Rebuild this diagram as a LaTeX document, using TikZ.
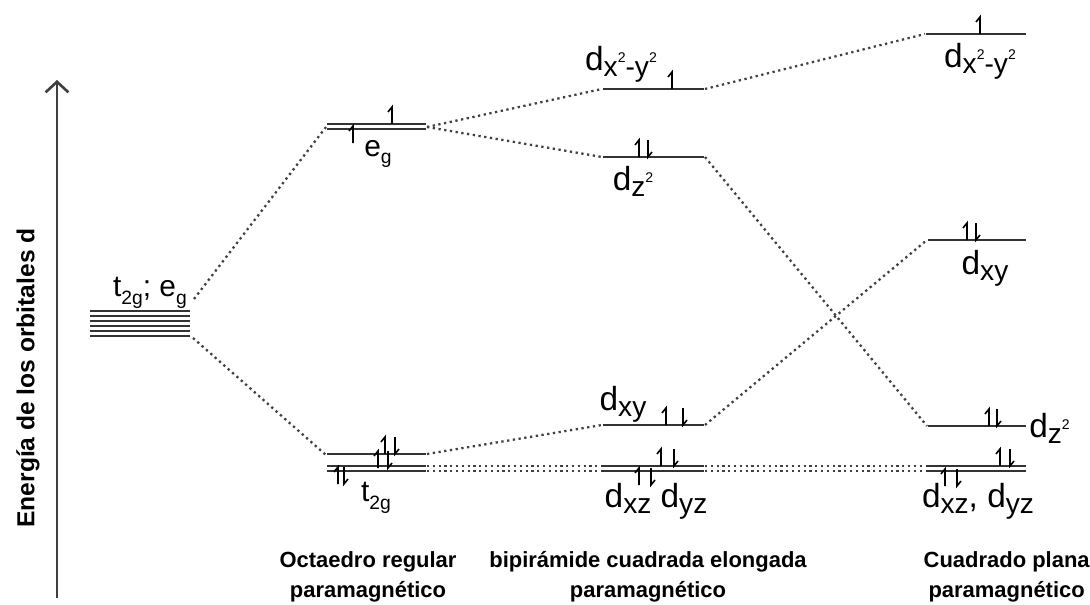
\documentclass[tikz,border=0pt]{standalone}
\usepackage{fontspec}
\setmainfont{Liberation Sans}
\usetikzlibrary{arrows.meta}
\newcommand{\orb}[1]{d\raisebox{-0.18em}{\fontsize{16}{16}\selectfont #1}}
\newcommand{\sqr}{\raisebox{0.5em}{\fontsize{8}{8}\selectfont 2}}
\newcommand{\sbs}[1]{\raisebox{-0.25em}{\fontsize{11}{11}\selectfont #1}}

\begin{document}
\begin{tikzpicture}[x=0.02cm, y=-0.02cm]
        \tikzset{lvl/.style={draw=black!80, line width=1.1pt},
                 con/.style={draw=black!75, dotted, line width=1.3pt},
                 lab/.style={inner sep=0pt, font=\fontsize{19}{22}\selectfont},
                 gsm/.style={inner sep=0pt, font=\fontsize{17}{19}\selectfont},
                 ttl/.style={align=center, font=\bfseries\fontsize{12.5}{17}\selectfont},
                 eup/.pic={\draw[black, line width=0.9pt] (0,0) -- (0,-17) -- (-4,-12);},
                 edn/.pic={\draw[black, line width=0.9pt] (0,-17) -- (0,0) -- (4,-5);}}
        \useasboundingbox (0,0) rectangle (1090,605);
        %% Eje de energia
        \coordinate (ej0) at (57,598);
        \coordinate (ej1) at (57,80);
        \draw[line width=1.5pt, black!75, -{Straight Barb[length=6pt,width=13pt]}] (ej0) -- (ej1);
        \node[rotate=90, font=\bfseries\fontsize{14}{16}\selectfont] (leje) at (28,378) {Energía de los orbitales d};
        %% Ion libre
        \foreach \y in {311,316,...,336} \draw[lvl] (90,\y) -- (190,\y);
        \coordinate (fiT) at (194,299);
        \coordinate (fiB) at (193,338);
        \node[gsm] (lfi) at (150,293) {t\sbs{2g}; e\sbs{g}};
        %% Octaedro regular
        \draw[lvl] (327,124) -- (426,124);
        \draw[lvl] (327,129) -- (426,129);
        \pic at (353,143) {eup};
        \pic at (392,124) {eup};
        \coordinate (egL) at (326,127);
        \coordinate (egR) at (427,127);
        \node[gsm] (leg) at (378,154) {e\sbs{g}};
        \draw[lvl] (327,454) -- (426,454);
        \draw[lvl] (327,466) -- (426,466);
        \draw[lvl] (327,471) -- (426,471);
        \pic at (385,454) {eup}; \pic at (395,454) {edn};
        \pic at (378,468) {eup}; \pic at (388,468) {edn};
        \pic at (338,484) {eup}; \pic at (344,484) {edn};
        \coordinate (t1L) at (326,455);
        \coordinate (t1R) at (427,454);
        \coordinate (t2Ra) at (427,466);
        \coordinate (t2Rb) at (427,471);
        \node[gsm] (lt2) at (376,498) {t\sbs{2g}};
        %% Bipiramide cuadrada elongada
        \draw[lvl] (603,89) -- (704,89);
        \pic at (672,89) {eup};
        \coordinate (bx2L) at (602,89);
        \coordinate (bx2R) at (705,89);
        \node[lab] (lbx2) at (621,64) {\orb{x\sqr-y\sqr}};
        \draw[lvl] (603,157) -- (704,157);
        \pic at (639,157) {eup}; \pic at (648,157) {edn};
        \coordinate (bz2L) at (602,157);
        \coordinate (bz2R) at (705,157);
        \node[lab] (lbz2) at (633,181) {\orb{z\sqr}};
        \draw[lvl] (603,425) -- (704,425);
        \pic at (666,425) {eup}; \pic at (683,425) {edn};
        \coordinate (bxyL) at (602,425);
        \coordinate (bxyR) at (705,425);
        \node[lab] (lbxy) at (623,404) {\orb{xy}};
        \draw[lvl] (601,466) -- (704,466);
        \draw[lvl] (601,471) -- (704,471);
        \pic at (661,466) {eup}; \pic at (674,466) {edn};
        \pic at (639,485) {eup}; \pic at (651,485) {edn};
        \coordinate (bdLa) at (600,466);
        \coordinate (bdLb) at (600,471);
        \coordinate (bdRa) at (705,466);
        \coordinate (bdRb) at (705,471);
        \node[lab] (lbdx) at (656,501) {\orb{xz} \orb{yz}};
        %% Cuadrado plano
        \draw[lvl] (926,34) -- (1026,34);
        \pic at (980,34) {eup};
        \coordinate (cx2L) at (925,34);
        \node[lab] (lcx2) at (980,61) {\orb{x\sqr-y\sqr}};
        \draw[lvl] (928,240) -- (1026,240);
        \pic at (967,240) {eup}; \pic at (976,240) {edn};
        \coordinate (cxyL) at (927,240);
        \node[lab] (lcxy) at (985,268) {\orb{xy}};
        \draw[lvl] (928,426) -- (1026,426);
        \pic at (989,426) {eup}; \pic at (997,426) {edn};
        \coordinate (cz2L) at (927,426);
        \node[lab, anchor=west] (lcz2) at (1029,428) {\orb{z\sqr}};
        \draw[lvl] (926,466) -- (1026,466);
        \draw[lvl] (926,471) -- (1026,471);
        \pic at (1000,466) {eup}; \pic at (1010,466) {edn};
        \pic at (945,486) {eup}; \pic at (957,486) {edn};
        \coordinate (cdLa) at (925,466);
        \coordinate (cdLb) at (925,471);
        \node[lab] (lcdx) at (978,501) {\orb{xz}, \orb{yz}};
        %% Correlaciones
        \draw[con] (fiT) -- (egL);
        \draw[con] (fiB) -- (t1L);
        \draw[con] (egR) -- (bx2L);
        \draw[con] (egR) -- (bz2L);
        \draw[con] (t1R) -- (bxyL);
        \draw[con] (t2Ra) -- (bdLa);
        \draw[con] (t2Rb) -- (bdLb);
        \draw[con] (bx2R) -- (cx2L);
        \draw[con] (bz2R) -- (cz2L);
        \draw[con] (bxyR) -- (cxyL);
        \draw[con] (bdRa) -- (cdLa);
        \draw[con] (bdRb) -- (cdLb);
        %% Geometrias
        \node[ttl] (toct) at (368,577) {Octaedro regular\\paramagnético};
        \node[ttl] (tbip) at (648,577) {bipirámide cuadrada elongada\\paramagnético};
        \node[ttl, anchor=east, inner xsep=0pt] (tcua) at (1090,577) {Cuadrado plana\\paramagnético};
\end{tikzpicture}
\end{document}
